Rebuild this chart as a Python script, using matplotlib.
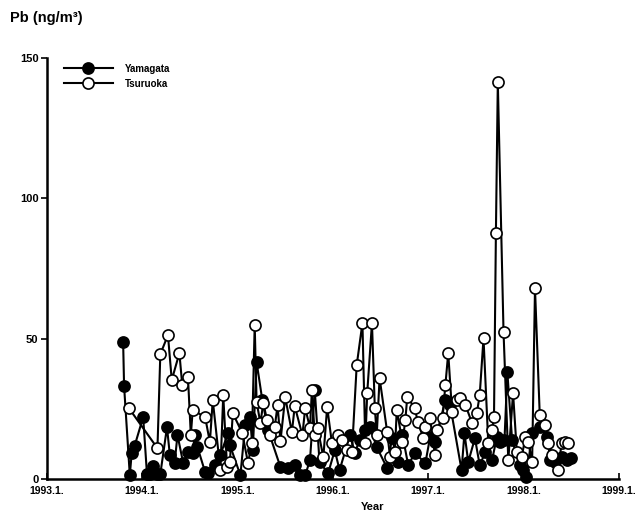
import matplotlib
matplotlib.use("Agg")
import matplotlib.pyplot as plt

# monthly-ish samples (decimal year, ng/m3)
yamagata_t = [1993.80, 1993.81, 1993.87, 1993.89, 1993.92, 1994.01, 1994.05, 1994.08,
              1994.11, 1994.15, 1994.19, 1994.26, 1994.29, 1994.34, 1994.37, 1994.43,
              1994.48, 1994.53, 1994.55, 1994.58, 1994.66, 1994.69, 1994.76, 1994.82,
              1994.90, 1994.92, 1995.03, 1995.08, 1995.13, 1995.16, 1995.20, 1995.26,
              1995.32, 1995.45, 1995.53, 1995.60, 1995.66, 1995.71, 1995.76, 1995.81,
              1995.86, 1995.95, 1996.02, 1996.07, 1996.18, 1996.23, 1996.28, 1996.34,
              1996.39, 1996.46, 1996.57, 1996.62, 1996.68, 1996.73, 1996.79, 1996.86,
              1996.97, 1997.02, 1997.07, 1997.18, 1997.23, 1997.35, 1997.38, 1997.42,
              1997.49, 1997.54, 1997.60, 1997.67, 1997.72, 1997.75, 1997.80, 1997.83,
              1997.88, 1997.96, 1997.99, 1998.03, 1998.09, 1998.17, 1998.25, 1998.28,
              1998.33, 1998.40, 1998.46, 1998.50]
yamagata_pb = [48.8, 33.1, 1.4, 9.3, 11.8, 22.1, 1.8, 1.8,
               4.6, 1.8, 1.8, 18.5, 8.6, 5.7, 15.7, 5.7,
               9.6, 9.3, 15.7, 11.4, 2.5, 2.1, 5.0, 8.6,
               16.4, 12.1, 1.4, 19.2, 22.1, 10.3, 41.7, 28.1,
               17.5, 4.3, 3.9, 5.0, 1.4, 1.4, 6.8, 31.7,
               6.1, 2.1, 10.3, 3.2, 15.7, 9.3, 13.9, 17.5,
               18.5, 11.4, 3.9, 14.6, 6.1, 15.7, 5.0, 9.3,
               5.7, 15.0, 13.2, 28.1, 26.4, 3.2, 16.4, 6.1,
               14.6, 5.0, 9.6, 6.8, 15.0, 13.2, 13.9, 38.1,
               13.9, 5.0, 3.2, 0.7, 16.4, 18.5, 15.0, 6.8,
               6.1, 7.8, 6.8, 7.5]

tsuruoka_t = [1993.86, 1994.16, 1994.19, 1994.27, 1994.31, 1994.39, 1994.42, 1994.48,
              1994.51, 1994.53, 1994.66, 1994.71, 1994.74, 1994.82, 1994.85, 1994.89,
              1994.92, 1994.95, 1995.05, 1995.11, 1995.15, 1995.18, 1995.20, 1995.24,
              1995.27, 1995.31, 1995.34, 1995.39, 1995.42, 1995.45, 1995.50, 1995.57,
              1995.60, 1995.68, 1995.71, 1995.76, 1995.78, 1995.81, 1995.84, 1995.90,
              1995.94, 1995.99, 1996.05, 1996.10, 1996.15, 1996.20, 1996.25, 1996.31,
              1996.34, 1996.36, 1996.41, 1996.44, 1996.46, 1996.49, 1996.57, 1996.60,
              1996.65, 1996.67, 1996.73, 1996.76, 1996.78, 1996.86, 1996.89, 1996.95,
              1996.97, 1997.02, 1997.07, 1997.09, 1997.15, 1997.18, 1997.21, 1997.25,
              1997.30, 1997.33, 1997.39, 1997.46, 1997.51, 1997.54, 1997.58, 1997.63,
              1997.67, 1997.69, 1997.71, 1997.73, 1997.79, 1997.84, 1997.89, 1997.93,
              1997.98, 1998.02, 1998.05, 1998.09, 1998.12, 1998.17, 1998.23, 1998.26,
              1998.30, 1998.36, 1998.40, 1998.44, 1998.47]
tsuruoka_pb = [25.3, 11.0, 44.5, 51.3, 35.3, 44.9, 33.5, 36.3,
               15.7, 24.6, 22.1, 13.2, 28.1, 3.2, 29.9, 4.3,
               6.1, 23.5, 16.4, 5.7, 12.8, 54.9, 27.4, 20.0,
               27.1, 21.0, 15.7, 18.5, 26.4, 13.5, 29.2, 16.7,
               26.0, 15.7, 25.3, 18.2, 31.7, 15.7, 18.2, 7.8,
               25.7, 12.8, 15.7, 13.9, 10.3, 9.6, 40.6, 55.6,
               12.8, 30.6, 55.6, 25.3, 15.7, 36.0, 16.7, 7.8,
               9.6, 24.6, 13.2, 21.0, 29.2, 25.3, 20.3, 14.6,
               18.5, 21.7, 8.6, 17.5, 21.7, 33.5, 44.9, 23.9,
               28.1, 28.9, 26.4, 20.0, 23.5, 29.9, 50.2, 12.8,
               17.5, 22.1, 87.6, 141.4, 52.4, 6.8, 30.6, 9.6,
               7.8, 15.0, 13.2, 6.1, 68.0, 22.8, 19.2, 12.8,
               8.6, 3.2, 12.8, 13.2, 12.8]

year_ticks = [1993, 1994, 1995, 1996, 1997, 1998, 1999]
year_labels = ["1993.1.", "1994.1.", "1995.1.", "1996.1.", "1997.1.", "1998.1.", "1999.1."]
pb_ticks = [0, 50, 100, 150]

plt.rcParams['font.family'] = ['Liberation Sans', 'DejaVu Sans']
plt.rcParams['font.weight'] = 'bold'

fig = plt.figure(figsize=(6.42, 5.13), dpi=100)
ax = fig.add_axes([0.073, 0.066, 0.891, 0.821])

ax.plot(yamagata_t, yamagata_pb, '-o', color='black', lw=1.5, ms=8,
        mfc='black', mec='black', mew=1.2, clip_on=False, label="Yamagata")
ax.plot(tsuruoka_t, tsuruoka_pb, '-o', color='black', lw=1.5, ms=8,
        mfc='white', mec='black', mew=1.2, clip_on=False, label="Tsuruoka")

ax.set_xlim(1993, 1999)
ax.set_ylim(0, 150)
ax.spines['top'].set_visible(False)
ax.spines['right'].set_visible(False)
ax.spines['left'].set_linewidth(1.8)
ax.spines['bottom'].set_linewidth(1.8)

ax.set_xticks(year_ticks)
ax.set_xticklabels(year_labels, fontsize=7.5, fontweight='bold')
ax.set_yticks(pb_ticks)
ax.set_yticklabels([str(v) for v in pb_ticks], fontsize=8, fontweight='bold')
ax.tick_params(axis='x', direction='in', length=4, width=1.2, pad=5)
ax.tick_params(axis='y', direction='out', length=4, width=1.2, pad=2)

ax.set_xlabel("Year", fontsize=8, fontweight='bold', labelpad=1)
ax.xaxis.set_label_coords(0.57, -0.055)

fig.text(0.015, 1 - 18 / 513, "Pb (ng/m³)", fontsize=10.5,
         fontweight='bold', va='center', ha='left')

ax.legend(loc='upper left', bbox_to_anchor=(0.02, 1.0), frameon=False,
          prop={'size': 7, 'weight': 'bold'}, handlelength=5, handletextpad=1.2,
          labelspacing=0.5, borderaxespad=0.2)

fig.savefig("out.png", dpi=100)
